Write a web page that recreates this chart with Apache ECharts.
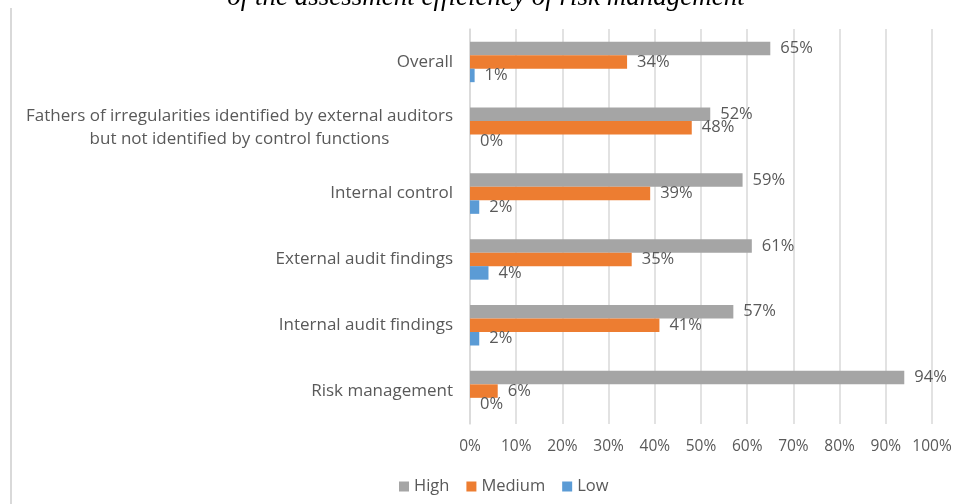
<!DOCTYPE html>
<html>
<head>
<meta charset="utf-8">
<script src="https://cdn.jsdelivr.net/npm/echarts@6/dist/echarts.min.js"></script>
<style>
html,body{margin:0;padding:0;background:#fff;}
#c{width:976px;height:504px;}
</style>
</head>
<body>
<div id="c"></div>
<script>
var categories = [
  'Overall',
  'Fathers of irregularities identified by external auditors\nbut not identified by control functions',
  'Internal control',
  'External audit findings',
  'Internal audit findings',
  'Risk management'
];
var highValues = [65, 52, 59, 61, 57, 94];
var mediumValues = [34, 48, 39, 35, 41, 6];
var lowValues = [1, 0, 2, 4, 2, 0];
var xTicks = [0, 10, 20, 30, 40, 50, 60, 70, 80, 90, 100];
var titleText = 'of the assessment efficiency of risk management';

var FONT = '"Open Sans"';
var TXT = '#595959';

var chart = echarts.init(document.getElementById('c'), null, {renderer: 'canvas'});

function mkSeries(name, data, color) {
  return {
    name: name,
    type: 'bar',
    data: data,
    barWidth: 13.5,
    barGap: '0%',
    itemStyle: {color: color},
    label: {
      show: true,
      position: 'right',
      distance: 10,
      formatter: function (p) { return p.value + '%'; },
      color: TXT,
      fontFamily: FONT,
      fontSize: 16.5
    }
  };
}

chart.setOption({
  backgroundColor: '#ffffff',
  animation: false,
  graphic: [
    {
      type: 'text',
      x: 486,
      y: 11,
      style: {
        text: titleText,
        fill: '#000',
        font: 'italic 27px "Liberation Serif", "DejaVu Serif", serif',
        align: 'center',
        verticalAlign: 'bottom'
      }
    },
    {
      type: 'line',
      shape: {x1: 11, y1: 8, x2: 11, y2: 504},
      style: {stroke: '#d9d9d9', lineWidth: 2}
    }
  ],
  legend: {
    data: ['High', 'Medium', 'Low'],
    left: 394,
    top: 473,
    icon: 'rect',
    itemWidth: 10,
    itemHeight: 10,
    itemGap: 17,
    textStyle: {color: TXT, fontFamily: FONT, fontSize: 16.5, padding: [0, 0, 0, 0]}
  },
  grid: {left: 470, right: 44, top: 29, bottom: 80, containLabel: false},
  xAxis: {
    type: 'value',
    min: 0,
    max: 100,
    interval: 10,
    axisLine: {show: false},
    axisTick: {show: false},
    splitLine: {lineStyle: {color: '#d9d9d9', width: 1.5}},
    axisLabel: {
      color: TXT,
      fontFamily: FONT,
      fontSize: 15.5,
      margin: 15,
      formatter: function (v) { return xTicks.indexOf(v) >= 0 ? v + '%' : ''; }
    }
  },
  yAxis: {
    type: 'category',
    inverse: true,
    data: categories,
    axisLine: {show: true, lineStyle: {color: '#d9d9d9', width: 1.5}},
    axisTick: {show: false},
    axisLabel: {
      color: TXT,
      fontFamily: FONT,
      fontSize: 17,
      margin: 17,
      lineHeight: 23,
      formatter: function (v) {
        return v.split('\n').map(function (s) { return '{c|' + s + '}'; }).join('\n');
      },
      rich: {
        c: {align: 'center', color: TXT, fontFamily: FONT, fontSize: 17, lineHeight: 23}
      }
    }
  },
  series: [
    mkSeries('High', highValues, '#a5a5a5'),
    mkSeries('Medium', mediumValues, '#ed7d31'),
    mkSeries('Low', lowValues, '#5b9bd5')
  ]
});
</script>
</body>
</html>
